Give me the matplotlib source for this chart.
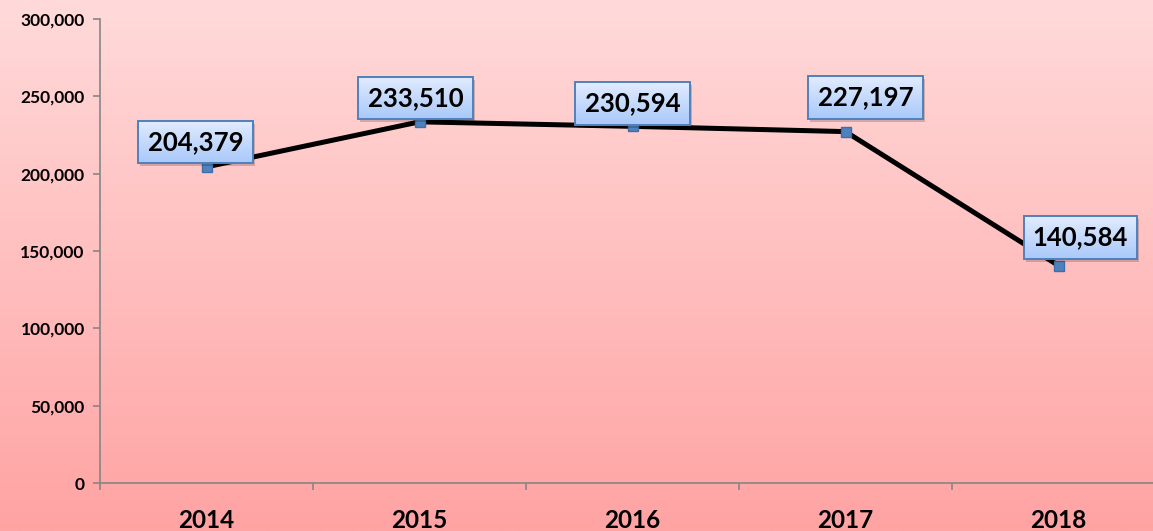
import numpy as np
import matplotlib.pyplot as plt
from matplotlib.colors import LinearSegmentedColormap
from matplotlib.ticker import FuncFormatter, FixedLocator

years = ['2014', '2015', '2016', '2017', '2018']
values = [204379, 233510, 230594, 227197, 140584]
# label offsets in pixels (dx, dy) relative to each point
label_offsets = [(-11, 25), (-4, 24), (0, 23), (20, 34), (22, 28)]

plt.rcParams['font.family'] = ['Lato', 'DejaVu Sans']

fig = plt.figure(figsize=(11.53, 5.31), dpi=100)

# pink vertical gradient over the whole figure
bg = fig.add_axes([0, 0, 1, 1], zorder=0)
grad = np.linspace(0, 1, 256).reshape(-1, 1)
cmap = LinearSegmentedColormap.from_list('pink', ['#FFDADA', '#FFA3A3'])
bg.imshow(grad, aspect='auto', cmap=cmap, extent=[0, 1, 0, 1])
bg.axis('off')

ax = fig.add_axes([100/1153, 48/531, 1065/1153, 464/531], zorder=1)
ax.patch.set_alpha(0)

x = np.arange(len(years))
ax.plot(x, values, color='black', lw=3.6, zorder=2)
ax.plot(x, values, ls='none', marker='s', ms=7.5, mfc='#4F81BD', mec='#3F6FA8', zorder=3)

labels = []
for xi, v, (dx, dy) in zip(x, values, label_offsets):
    t = ax.annotate(f'{v:,}', (xi, v), xytext=(dx, dy), textcoords='offset pixels',
                    ha='center', va='center', fontsize=18.5, fontweight='bold', color='black',
                    bbox=dict(boxstyle='square,pad=0.36', fc='none', ec='#4F81BD', lw=1.4),
                    zorder=10)
    labels.append(t)

ax.set_xlim(-0.5, 4.5)
ax.set_ylim(0, 300000)
ax.yaxis.set_major_locator(FixedLocator(np.arange(0, 300001, 50000)))
ax.yaxis.set_major_formatter(FuncFormatter(lambda v, p: f'{int(v):,}'))
ax.set_xticks(x)
ax.set_xticklabels(years)
ax.xaxis.set_minor_locator(FixedLocator(np.arange(-0.5, 5, 1)))
ax.tick_params(axis='x', which='major', length=0, pad=19, labelsize=17.5)
ax.tick_params(axis='x', which='minor', length=5, color='#868686', width=1.2)
ax.tick_params(axis='y', length=5, color='#868686', width=1.2, labelsize=12.5, pad=6)
for lab in ax.get_xticklabels() + ax.get_yticklabels():
    lab.set_fontweight('bold')

for s in ['top', 'right']:
    ax.spines[s].set_visible(False)
for s in ['left', 'bottom']:
    ax.spines[s].set_color('#868686')
    ax.spines[s].set_linewidth(1.2)

# gradient fill + soft shadow behind each label box
fig.canvas.draw()
W, H = fig.bbox.width, fig.bbox.height
box_cmap = LinearSegmentedColormap.from_list('bluebox', ['#E2ECFE', '#A9C8FA'])
for t in labels:
    bb = t.get_bbox_patch().get_window_extent()
    # shadow
    fig.patches.append(plt.Rectangle(((bb.x0 + 2) / W, (bb.y0 - 3) / H), bb.width / W, bb.height / H,
                                     transform=fig.transFigure, fc='black', alpha=0.18,
                                     ec='none', zorder=1.5))
    bax = fig.add_axes([bb.x0 / W, bb.y0 / H, bb.width / W, bb.height / H], zorder=1.6)
    bax.imshow(grad, aspect='auto', cmap=box_cmap, extent=[0, 1, 0, 1])
    bax.axis('off')

# keep the label texts above the gradient boxes
top = fig.add_axes(ax.get_position(), zorder=2, sharex=ax, sharey=ax)
top.patch.set_alpha(0)
top.axis('off')
for t in labels:
    t.remove()
for xi, v, (dx, dy) in zip(x, values, label_offsets):
    top.annotate(f'{v:,}', (xi, v), xytext=(dx, dy), textcoords='offset pixels',
                 ha='center', va='center', fontsize=18.5, fontweight='bold', color='black',
                 bbox=dict(boxstyle='square,pad=0.36', fc='none', ec='#4F81BD', lw=1.4))
top.set_xlim(-0.5, 4.5)
top.set_ylim(0, 300000)

fig.savefig('out.png', dpi=100)
